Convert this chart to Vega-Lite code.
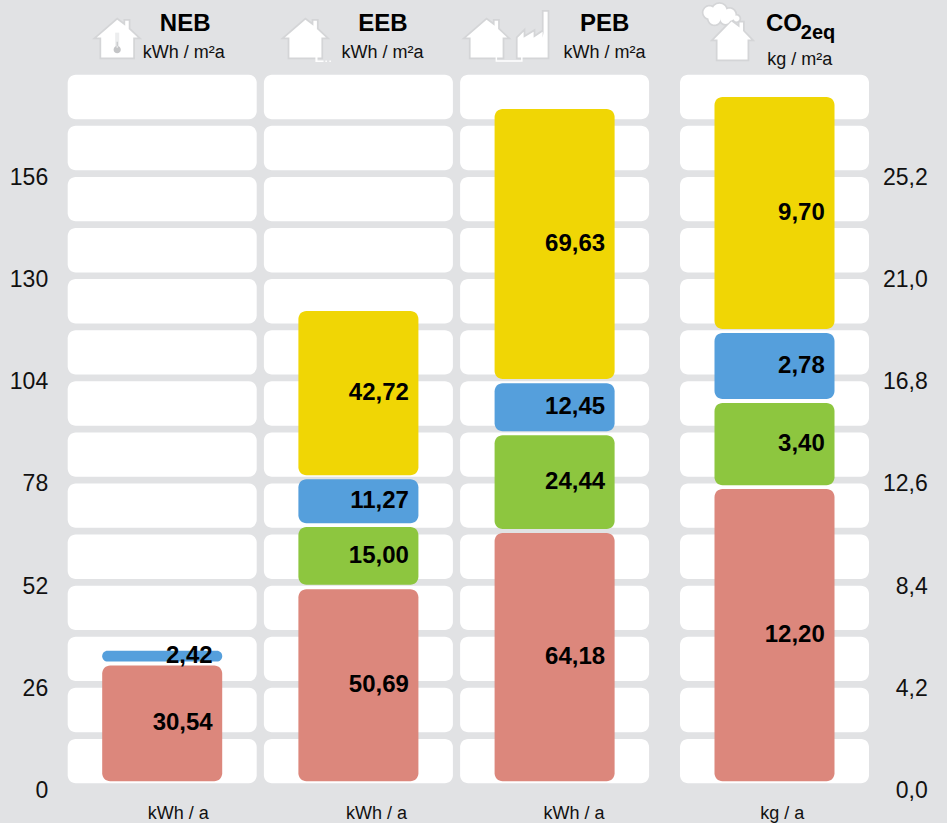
{
"$schema":"https://vega.github.io/schema/vega-lite/v6.json",
"width":777.6,"height":714,
"autosize":{"type":"none"},
"padding":{"left":67.7,"top":74,"right":101.7,"bottom":35},
"background":"#E1E2E4",
"config":{"view":{"stroke":null},"font":"Liberation Sans","locale":{"number":{"decimal":",","thousands":".","grouping":[3],"currency":["","€"]}}},
"datasets":{
"cells":[
{"panel":"NEB","lower":1.2,"upper":12.5},{"panel":"NEB","lower":14.2,"upper":25.5},{"panel":"NEB","lower":27.2,"upper":38.5},{"panel":"NEB","lower":40.2,"upper":51.5},{"panel":"NEB","lower":53.2,"upper":64.5},{"panel":"NEB","lower":66.2,"upper":77.5},{"panel":"NEB","lower":79.2,"upper":90.5},{"panel":"NEB","lower":92.2,"upper":103.5},{"panel":"NEB","lower":105.2,"upper":116.5},{"panel":"NEB","lower":118.2,"upper":129.5},{"panel":"NEB","lower":131.2,"upper":142.5},{"panel":"NEB","lower":144.2,"upper":155.5},{"panel":"NEB","lower":157.2,"upper":168.5},{"panel":"NEB","lower":170.2,"upper":181.5},
{"panel":"EEB","lower":1.2,"upper":12.5},{"panel":"EEB","lower":14.2,"upper":25.5},{"panel":"EEB","lower":27.2,"upper":38.5},{"panel":"EEB","lower":40.2,"upper":51.5},{"panel":"EEB","lower":53.2,"upper":64.5},{"panel":"EEB","lower":66.2,"upper":77.5},{"panel":"EEB","lower":79.2,"upper":90.5},{"panel":"EEB","lower":92.2,"upper":103.5},{"panel":"EEB","lower":105.2,"upper":116.5},{"panel":"EEB","lower":118.2,"upper":129.5},{"panel":"EEB","lower":131.2,"upper":142.5},{"panel":"EEB","lower":144.2,"upper":155.5},{"panel":"EEB","lower":157.2,"upper":168.5},{"panel":"EEB","lower":170.2,"upper":181.5},
{"panel":"PEB","lower":1.2,"upper":12.5},{"panel":"PEB","lower":14.2,"upper":25.5},{"panel":"PEB","lower":27.2,"upper":38.5},{"panel":"PEB","lower":40.2,"upper":51.5},{"panel":"PEB","lower":53.2,"upper":64.5},{"panel":"PEB","lower":66.2,"upper":77.5},{"panel":"PEB","lower":79.2,"upper":90.5},{"panel":"PEB","lower":92.2,"upper":103.5},{"panel":"PEB","lower":105.2,"upper":116.5},{"panel":"PEB","lower":118.2,"upper":129.5},{"panel":"PEB","lower":131.2,"upper":142.5},{"panel":"PEB","lower":144.2,"upper":155.5},{"panel":"PEB","lower":157.2,"upper":168.5},{"panel":"PEB","lower":170.2,"upper":181.5}
],
"cellsCO2":[
{"panel":"CO2eq","lower":1.2,"upper":12.5},{"panel":"CO2eq","lower":14.2,"upper":25.5},{"panel":"CO2eq","lower":27.2,"upper":38.5},{"panel":"CO2eq","lower":40.2,"upper":51.5},{"panel":"CO2eq","lower":53.2,"upper":64.5},{"panel":"CO2eq","lower":66.2,"upper":77.5},{"panel":"CO2eq","lower":79.2,"upper":90.5},{"panel":"CO2eq","lower":92.2,"upper":103.5},{"panel":"CO2eq","lower":105.2,"upper":116.5},{"panel":"CO2eq","lower":118.2,"upper":129.5},{"panel":"CO2eq","lower":131.2,"upper":142.5},{"panel":"CO2eq","lower":144.2,"upper":155.5},{"panel":"CO2eq","lower":157.2,"upper":168.5},{"panel":"CO2eq","lower":170.2,"upper":181.5}
],
"energy":[
{"panel":"NEB","part":"A","value":30.54,"from":1.7,"to":31.2,"mid":16.45},
{"panel":"NEB","part":"C","value":2.42,"from":32.2,"to":34.9,"mid":33.55},
{"panel":"EEB","part":"A","value":50.69,"from":1.7,"to":50.6,"mid":26.15},
{"panel":"EEB","part":"B","value":15.00,"from":51.7,"to":66.4,"mid":59.05},
{"panel":"EEB","part":"C","value":11.27,"from":67.4,"to":78.6,"mid":73.0},
{"panel":"EEB","part":"D","value":42.72,"from":79.6,"to":121.4,"mid":100.5},
{"panel":"PEB","part":"A","value":64.18,"from":1.7,"to":64.9,"mid":33.3},
{"panel":"PEB","part":"B","value":24.44,"from":65.9,"to":89.8,"mid":77.85},
{"panel":"PEB","part":"C","value":12.45,"from":90.8,"to":103,"mid":96.9},
{"panel":"PEB","part":"D","value":69.63,"from":104.1,"to":172.8,"mid":138.45}
],
"co2":[
{"panel":"CO2eq","part":"A","value":12.20,"from":0.275,"to":12.29,"mid":6.28},
{"panel":"CO2eq","part":"B","value":3.40,"from":12.45,"to":15.83,"mid":14.14},
{"panel":"CO2eq","part":"C","value":2.78,"from":15.99,"to":18.7,"mid":17.35},
{"panel":"CO2eq","part":"D","value":9.70,"from":18.87,"to":28.4,"mid":23.63}
]
},
"encoding":{"x":{"field":"panel","type":"nominal","axis":null,"scale":{"domain":["NEB","EEB","PEB","CO2eq"],"paddingInner":0.0367,"paddingOuter":0}}},
"layer":[
{"data":{"name":"cells"},"mark":{"type":"bar","color":"#FFFFFF","cornerRadius":8},
"encoding":{"y":{"field":"upper","type":"quantitative","title":null,"scale":{"domain":[0,181.7]},"axis":{"orient":"left","values":[0,26,52,78,104,130,156],"domain":false,"ticks":false,"grid":false,"labelFontSize":23,"labelColor":"#111111","labelPadding":20,"labelOffset":2.4,"labelFont":"Liberation Sans"}},"y2":{"field":"lower"}}},
{"data":{"name":"cellsCO2"},"mark":{"type":"bar","color":"#FFFFFF","cornerRadius":8,"xOffset":23.7},
"encoding":{"y":{"field":"upper","type":"quantitative","axis":null,"scale":{"domain":[0,181.7]}},"y2":{"field":"lower"}}},
{"data":{"name":"energy"},"mark":{"type":"bar","cornerRadius":8,"width":{"band":0.635}},
"encoding":{"y":{"field":"to","type":"quantitative","axis":null,"scale":{"domain":[0,181.7]}},"y2":{"field":"from"},
"color":{"field":"part","type":"nominal","legend":null,"scale":{"domain":["A","B","C","D"],"range":["#DC877C","#8DC63F","#559FDC","#F0D605"]}}}},
{"data":{"name":"co2"},"mark":{"type":"bar","cornerRadius":8,"width":{"band":0.635},"xOffset":23.7},
"encoding":{"y":{"field":"to","type":"quantitative","title":null,"scale":{"domain":[0,29.35]},"axis":{"orient":"right","values":[0,4.2,8.4,12.6,16.8,21,25.2],"format":".1f","domain":false,"ticks":false,"grid":false,"labelFontSize":23,"labelColor":"#111111","labelAlign":"right","labelPadding":82,"labelOffset":2.4,"labelFont":"Liberation Sans"}},"y2":{"field":"from"},
"color":{"field":"part","type":"nominal","legend":null,"scale":{"domain":["A","B","C","D"],"range":["#DC877C","#8DC63F","#559FDC","#F0D605"]}}}},
{"data":{"name":"energy"},"mark":{"type":"text","align":"right","dx":50.5,"font":"Liberation Sans","fontWeight":"bold","fontSize":24,"color":"#000000"},
"encoding":{"y":{"field":"mid","type":"quantitative","axis":null,"scale":{"domain":[0,181.7]}},"text":{"field":"value","type":"quantitative","format":".2f"}}},
{"data":{"name":"co2"},"mark":{"type":"text","align":"right","dx":74,"font":"Liberation Sans","fontWeight":"bold","fontSize":24,"color":"#000000"},
"encoding":{"y":{"field":"mid","type":"quantitative","axis":null,"scale":{"domain":[0,29.35]}},"text":{"field":"value","type":"quantitative","format":".2f"}}},

{"data":{"values":[{"panel":"NEB","label":"NEB"}]},"mark":{"type":"text","dx":23,"fontWeight":"bold","fontSize":24,"color":"#000000"},"encoding":{"y":{"datum":194.4,"type":"quantitative","axis":null,"scale":{"domain":[0,181.7]}},"text":{"field":"label"}}},
{"data":{"values":[{"panel":"EEB","label":"EEB"}]},"mark":{"type":"text","dx":24.6,"fontWeight":"bold","fontSize":24,"color":"#000000"},"encoding":{"y":{"datum":194.4,"type":"quantitative","axis":null,"scale":{"domain":[0,181.7]}},"text":{"field":"label"}}},
{"data":{"values":[{"panel":"PEB","label":"PEB"}]},"mark":{"type":"text","dx":50,"fontWeight":"bold","fontSize":24,"color":"#000000"},"encoding":{"y":{"datum":194.4,"type":"quantitative","axis":null,"scale":{"domain":[0,181.7]}},"text":{"field":"label"}}},
{"data":{"values":[{"panel":"CO2eq","label":"CO"}]},"mark":{"type":"text","align":"left","dx":15.2,"fontWeight":"bold","fontSize":24,"color":"#000000"},"encoding":{"y":{"datum":194.4,"type":"quantitative","axis":null,"scale":{"domain":[0,181.7]}},"text":{"field":"label"}}},
{"data":{"values":[{"panel":"CO2eq","label":"2eq"}]},"mark":{"type":"text","align":"left","dx":50,"fontWeight":"bold","fontSize":20,"color":"#000000"},"encoding":{"y":{"datum":192.2,"type":"quantitative","axis":null,"scale":{"domain":[0,181.7]}},"text":{"field":"label"}}},

{"data":{"values":[{"panel":"NEB","label":"kWh / m²a"}]},"mark":{"type":"text","dx":21.5,"fontSize":18,"color":"#111111"},"encoding":{"y":{"datum":187,"type":"quantitative","axis":null,"scale":{"domain":[0,181.7]}},"text":{"field":"label"}}},
{"data":{"values":[{"panel":"EEB","label":"kWh / m²a"}]},"mark":{"type":"text","dx":24,"fontSize":18,"color":"#111111"},"encoding":{"y":{"datum":187,"type":"quantitative","axis":null,"scale":{"domain":[0,181.7]}},"text":{"field":"label"}}},
{"data":{"values":[{"panel":"PEB","label":"kWh / m²a"}]},"mark":{"type":"text","dx":50,"fontSize":18,"color":"#111111"},"encoding":{"y":{"datum":187,"type":"quantitative","axis":null,"scale":{"domain":[0,181.7]}},"text":{"field":"label"}}},
{"data":{"values":[{"panel":"CO2eq","label":"kg / m²a"}]},"mark":{"type":"text","dx":49,"fontSize":18,"color":"#111111"},"encoding":{"y":{"datum":185.2,"type":"quantitative","axis":null,"scale":{"domain":[0,181.7]}},"text":{"field":"label"}}},

{"data":{"values":[{"panel":"NEB","label":"kWh / a"}]},"mark":{"type":"text","dx":16,"fontSize":18,"color":"#111111"},"encoding":{"y":{"datum":-6.7,"type":"quantitative","axis":null,"scale":{"domain":[0,181.7]}},"text":{"field":"label"}}},
{"data":{"values":[{"panel":"EEB","label":"kWh / a"}]},"mark":{"type":"text","dx":18,"fontSize":18,"color":"#111111"},"encoding":{"y":{"datum":-6.7,"type":"quantitative","axis":null,"scale":{"domain":[0,181.7]}},"text":{"field":"label"}}},
{"data":{"values":[{"panel":"PEB","label":"kWh / a"}]},"mark":{"type":"text","dx":19.5,"fontSize":18,"color":"#111111"},"encoding":{"y":{"datum":-6.7,"type":"quantitative","axis":null,"scale":{"domain":[0,181.7]}},"text":{"field":"label"}}},
{"data":{"values":[{"panel":"CO2eq","label":"kg / a"}]},"mark":{"type":"text","dx":31.5,"fontSize":18,"color":"#111111"},"encoding":{"y":{"datum":-6.7,"type":"quantitative","axis":null,"scale":{"domain":[0,181.7]}},"text":{"field":"label"}}},

{"data":{"values":[{"panel":"NEB"}]},"mark":{"type":"point","filled":false,"size":3600,"stroke":"#000000","strokeWidth":3.5,"opacity":0.05,"shape":"M-1.5 -.633 l.267 .2 v-.167 h.117 v.283 l.3 .283 h-.15 v.667 h-1.067 v-.667 h-.15 z"},"encoding":{"y":{"datum":190.7,"type":"quantitative","axis":null,"scale":{"domain":[0,181.7]}}}},
{"data":{"values":[{"panel":"NEB"}]},"mark":{"type":"point","filled":true,"size":3600,"fill":"#FFFFFF","opacity":1,"shape":"M-1.5 -.633 l.267 .2 v-.167 h.117 v.283 l.3 .283 h-.15 v.667 h-1.067 v-.667 h-.15 z"},"encoding":{"y":{"datum":190.7,"type":"quantitative","axis":null,"scale":{"domain":[0,181.7]}}}},
{"data":{"values":[{"panel":"NEB"}]},"mark":{"type":"point","filled":true,"size":3600,"fill":"#ECEDEE","opacity":1,"shape":"M-1.567 -.2 h.134 v.5 h-.134 z"},"encoding":{"y":{"datum":190.7,"type":"quantitative","axis":null,"scale":{"domain":[0,181.7]}}}},
{"data":{"values":[{"panel":"NEB"}]},"mark":{"type":"point","filled":true,"size":3600,"fill":"#C4C5C7","opacity":1,"shape":"M-1.62 .367 a.12 .12 0 1 0 .24 0 a.12 .12 0 1 0 -.24 0 z M-1.52 .1 h.04 v.2 h-.04 z"},"encoding":{"y":{"datum":190.7,"type":"quantitative","axis":null,"scale":{"domain":[0,181.7]}}}},

{"data":{"values":[{"panel":"EEB"}]},"mark":{"type":"point","filled":false,"size":3600,"stroke":"#000000","strokeWidth":3.5,"opacity":0.05,"shape":"M-1.767 -.633 l.267 .2 v-.167 h.117 v.283 l.3 .283 h-.15 v.667 h-1.067 v-.667 h-.15 z"},"encoding":{"y":{"datum":190.7,"type":"quantitative","axis":null,"scale":{"domain":[0,181.7]}}}},
{"data":{"values":[{"panel":"EEB"}]},"mark":{"type":"point","filled":true,"size":3600,"fill":"#FFFFFF","opacity":1,"shape":"M-1.767 -.633 l.267 .2 v-.167 h.117 v.283 l.3 .283 h-.15 v.667 h-1.067 v-.667 h-.15 z M-1.433 .633 h.07 v.1 h.2 v.05 h-.27 z M-1.1 .733 h.05 v.05 h-.05 z M-.967 .733 h.05 v.05 h-.05 z"},"encoding":{"y":{"datum":190.7,"type":"quantitative","axis":null,"scale":{"domain":[0,181.7]}}}},

{"data":{"values":[{"panel":"PEB"}]},"mark":{"type":"point","filled":false,"size":3600,"stroke":"#000000","strokeWidth":3.5,"opacity":0.05,"shape":"M-2.267 -.633 l.267 .2 v-.167 h.117 v.283 l.3 .283 h-.15 v.667 h-1.067 v-.667 h-.15 z M-1.233 .633 V-.033 L-1.033 -.233 V-.033 L-.7 -.233 V-.033 L-.4 -.233 V-.033 L-.367 -.2 V-.9 H-.233 V.633 Z"},"encoding":{"y":{"datum":190.7,"type":"quantitative","axis":null,"scale":{"domain":[0,181.7]}}}},
{"data":{"values":[{"panel":"PEB"}]},"mark":{"type":"point","filled":true,"size":3600,"fill":"#FFFFFF","opacity":1,"shape":"M-2.267 -.633 l.267 .2 v-.167 h.117 v.283 l.3 .283 h-.15 v.667 h-1.067 v-.667 h-.15 z M-1.233 .633 V-.033 L-1.033 -.233 V-.033 L-.7 -.233 V-.033 L-.4 -.233 V-.033 L-.367 -.2 V-.9 H-.233 V.633 Z M-1.967 .633 h.05 v.09 h.8 v-.09 h.05 v.134 h-.9 z"},"encoding":{"y":{"datum":190.7,"type":"quantitative","axis":null,"scale":{"domain":[0,181.7]}}}},

{"data":{"values":[{"panel":"CO2eq"}]},"mark":{"type":"point","filled":false,"size":3600,"xOffset":23.7,"stroke":"#000000","strokeWidth":3.5,"opacity":0.05,"shape":"M-1.433 -.567 l.267 .2 v-.167 h.117 v.283 l.27 .283 h-.12 v.667 h-1 v-.667 h-.12 z M-2.367 -.867 a.2 .2 0 1 0 .4 0 a.2 .2 0 1 0 -.4 0 z M-2.067 -.933 a.233 .233 0 1 0 .467 0 a.233 .233 0 1 0 -.467 0 z M-1.7 -.8 a.2 .2 0 1 0 .4 0 a.2 .2 0 1 0 -.4 0 z M-2.2 -.667 a.2 .2 0 1 0 .4 0 a.2 .2 0 1 0 -.4 0 z M-1.8 -.667 a.167 .167 0 1 0 .333 0 a.167 .167 0 1 0 -.333 0 z M-1.367 -.667 a.1 .1 0 1 0 .2 0 a.1 .1 0 1 0 -.2 0 z"},"encoding":{"y":{"datum":190.7,"type":"quantitative","axis":null,"scale":{"domain":[0,181.7]}}}},
{"data":{"values":[{"panel":"CO2eq"}]},"mark":{"type":"point","filled":true,"size":3600,"xOffset":23.7,"fill":"#FFFFFF","opacity":1,"shape":"M-1.433 -.567 l.267 .2 v-.167 h.117 v.283 l.27 .283 h-.12 v.667 h-1 v-.667 h-.12 z M-2.367 -.867 a.2 .2 0 1 0 .4 0 a.2 .2 0 1 0 -.4 0 z M-2.067 -.933 a.233 .233 0 1 0 .467 0 a.233 .233 0 1 0 -.467 0 z M-1.7 -.8 a.2 .2 0 1 0 .4 0 a.2 .2 0 1 0 -.4 0 z M-2.2 -.667 a.2 .2 0 1 0 .4 0 a.2 .2 0 1 0 -.4 0 z M-1.8 -.667 a.167 .167 0 1 0 .333 0 a.167 .167 0 1 0 -.333 0 z M-1.367 -.667 a.1 .1 0 1 0 .2 0 a.1 .1 0 1 0 -.2 0 z"},"encoding":{"y":{"datum":190.7,"type":"quantitative","axis":null,"scale":{"domain":[0,181.7]}}}}
],
"resolve":{"scale":{"y":"independent","color":"shared","x":"shared"},"axis":{"y":"independent"}}
}
